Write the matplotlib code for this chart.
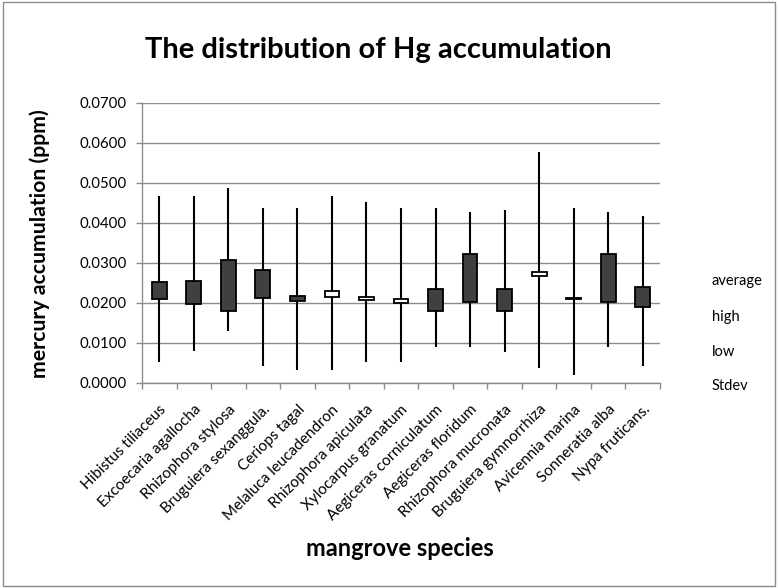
import matplotlib
matplotlib.use("Agg")
import matplotlib.pyplot as plt
from matplotlib.patches import Rectangle
import numpy as np

species = ["Hibistus tiliaceus", "Excoecaria agallocha", "Rhizophora stylosa",
           "Bruguiera sexanggula.", "Ceriops tagal", "Melaluca leucadendron",
           "Rhizophora apiculata", "Xylocarpus granatum", "Aegiceras corniculatum",
           "Aegiceras floridum", "Rhizophora mucronata", "Bruguiera gymnorrhiza",
           "Avicennia marina", "Sonneratia alba", "Nypa fruticans."]
average = [0.0251, 0.0254, 0.0308, 0.0283, 0.0218, 0.0216, 0.0207, 0.0200,
           0.0234, 0.0323, 0.0235, 0.0267, 0.0212, 0.0322, 0.0240]
high = [0.0467, 0.0467, 0.0488, 0.0436, 0.0436, 0.0467, 0.0451, 0.0436,
        0.0436, 0.0426, 0.0431, 0.0576, 0.0436, 0.0426, 0.0417]
low = [0.0052, 0.0081, 0.0130, 0.0042, 0.0032, 0.0032, 0.0052, 0.0052,
       0.0091, 0.0091, 0.0078, 0.0037, 0.0021, 0.0091, 0.0042]
stdev = [0.0210, 0.0198, 0.0181, 0.0212, 0.0205, 0.0229, 0.0216, 0.0209,
         0.0181, 0.0202, 0.0180, 0.0278, 0.0211, 0.0202, 0.0190]
legend_labels = ["average", "high", "low", "Stdev"]
yticks = [0.0, 0.01, 0.02, 0.03, 0.04, 0.05, 0.06, 0.07]

FONT = "Lato"
fig = plt.figure(figsize=(7.78, 5.88), dpi=100)
fig.patches.append(Rectangle((0.004, 0.004), 0.992, 0.992, transform=fig.transFigure,
                             fill=False, edgecolor="#8c8c8c", linewidth=1.0))
ax = fig.add_axes([142/778, 1-383/588, (660-142)/778, (383-102.7)/588])

grid_c = "#8c8c8c"
n = len(species)
x = np.arange(n) + 0.5
bw = 0.43
for i in range(n):
    ax.vlines(x[i], low[i], high[i], color="black", linewidth=1.5, zorder=3)
    o, c = average[i], stdev[i]
    bot, top = min(o, c), max(o, c)
    face = "#404040" if c < o else "white"
    ax.add_patch(Rectangle((x[i]-bw/2, bot), bw, max(top-bot, 0.00005),
                           facecolor=face, edgecolor="black", linewidth=1.3, zorder=4))

ax.set_xlim(0, n)
ax.set_ylim(0, 0.07)
ax.set_yticks(yticks)
ax.set_yticklabels([f"{v:.4f}" for v in yticks], fontsize=10.8, family=FONT)
ax.yaxis.grid(True, color=grid_c, linewidth=1.0)
ax.set_axisbelow(True)
ax.set_xticks(np.arange(n+1))
ax.set_xticklabels([])
ax.set_xticks(x, minor=True)
ax.set_xticklabels(species, minor=True, rotation=45, ha="right", va="top",
                   rotation_mode="anchor", fontsize=11, family=FONT)
ax.tick_params(axis="x", which="minor", length=0, pad=14)
ax.tick_params(axis="x", which="major", length=4, color=grid_c, width=1)
ax.tick_params(axis="y", length=4, color=grid_c, width=1, pad=7)
for s in ["top", "right"]:
    ax.spines[s].set_visible(False)
for s in ["left", "bottom"]:
    ax.spines[s].set_color(grid_c)
    ax.spines[s].set_linewidth(1.0)

fig.text(378/778, 1-50/588, "The distribution of Hg accumulation", ha="center", va="center",
         fontsize=21, fontweight="bold", family=FONT)
fig.text(40/778, 1-244/588, "mercury accumulation (ppm)", ha="center", va="center",
         rotation=90, fontsize=15.3, fontweight="bold", family=FONT)
fig.text(400/778, 1-549/588, "mangrove species", ha="center", va="center",
         fontsize=17, fontweight="bold", family=FONT)
for lab, yy in zip(legend_labels, [281, 317, 352, 386]):
    fig.text(712/778, 1-yy/588, lab, ha="left", va="center", fontsize=10.5, family=FONT)

fig.savefig("out.png", dpi=100)
